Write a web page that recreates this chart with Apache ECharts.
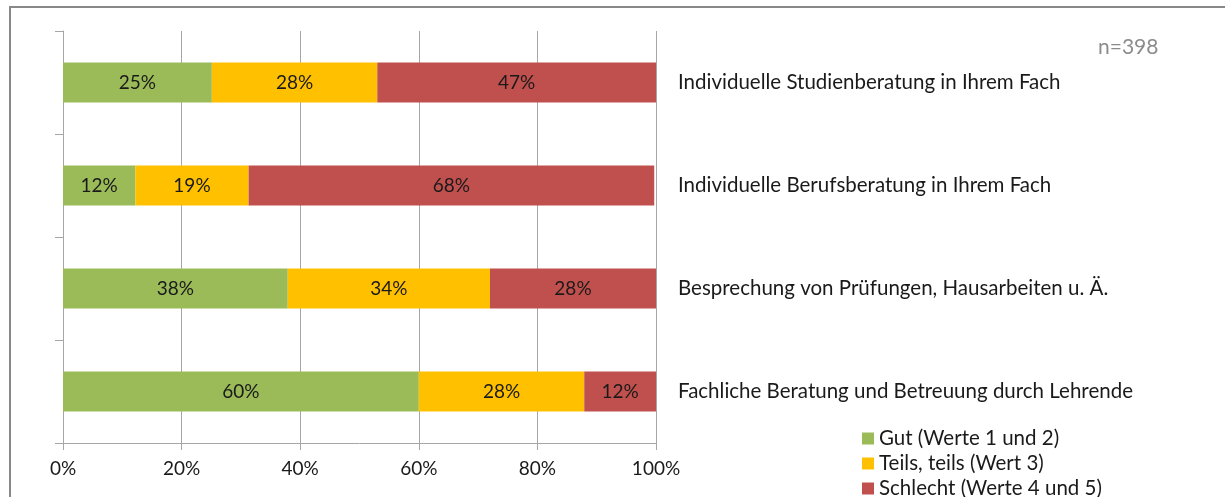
<!DOCTYPE html>
<html><head><meta charset="utf-8">
<script src="https://cdn.jsdelivr.net/npm/echarts@6/dist/echarts.min.js"></script>
<style>html,body{margin:0;padding:0;background:#fff}#c{width:1225px;height:497px}</style>
</head><body><div id="c"></div>
<script>
const categories = [
  "Individuelle Studienberatung in Ihrem Fach",
  "Individuelle Berufsberatung in Ihrem Fach",
  "Besprechung von Prüfungen, Hausarbeiten u. Ä.",
  "Fachliche Beratung und Betreuung durch Lehrende"
];
const seriesNames = ["Gut (Werte 1 und 2)", "Teils, teils (Wert 3)", "Schlecht (Werte 4 und 5)"];
const gut = [25.1, 12.2, 37.9, 60.0];
const teils = [27.9, 19.1, 34.1, 27.9];
const schlecht = [47.0, 68.4, 28.0, 12.1];
const colors = ["#9BBB59", "#FFC000", "#C0504D"];
const xTicks = [0, 20, 40, 60, 80, 100];
const note = "n=398";

const font = "Lato, 'Open Sans', sans-serif";
const txt = "#1a1a1a";
const axisGray = "#a6a6a6";
const fs = 20.5;

const chart = echarts.init(document.getElementById('c'));
const mk = (name, data, color) => ({
  name, type: 'bar', stack: 'total', data, barWidth: 40,
  itemStyle: { color },
  label: { show: true, position: 'inside', color: txt, fontSize: 19, fontFamily: font,
    formatter: p => Math.round(p.value) + '%' },
  emphasis: { disabled: true }
});
const legendTops = [428, 453, 478];
chart.setOption({
  animation: false,
  textStyle: { fontFamily: font },
  grid: { left: 63, right: 569, top: 31, bottom: 54, containLabel: false },
  graphic: [
    { type: 'rect', shape: { x: 10, y: 7, width: 1240, height: 520 },
      style: { fill: 'none', stroke: '#888888', lineWidth: 2 }, silent: true },
    { type: 'text', left: 1098, top: 37, style: { text: note, fill: '#8c8c8c', font: '21px ' + font } }
  ],
  xAxis: {
    type: 'value', min: 0, max: 100, interval: 20,
    axisLine: { show: true, lineStyle: { color: axisGray } },
    axisTick: { show: true, length: 7, lineStyle: { color: axisGray } },
    splitLine: { show: true, lineStyle: { color: axisGray } },
    axisLabel: { color: txt, fontSize: 19, margin: 16, fontFamily: font,
      formatter: v => xTicks.includes(v) ? v + '%' : '' }
  },
  yAxis: [
    { type: 'category', data: categories, inverse: true, position: 'left',
      axisLine: { show: true, lineStyle: { color: axisGray } },
      axisTick: { show: true, length: 8, lineStyle: { color: axisGray } },
      axisLabel: { show: false }, splitLine: { show: false } },
    { type: 'category', data: categories, inverse: true, position: 'right',
      axisLine: { show: false }, axisTick: { show: false },
      axisLabel: { show: true, color: txt, fontSize: 20.5, margin: 22, fontFamily: font } }
  ],
  legend: seriesNames.map((n, i) => ({
    orient: 'vertical', left: 862, top: legendTops[i], itemWidth: 12, itemHeight: 12,
    icon: 'rect', data: [n], padding: 0, itemGap: 0,
    textStyle: { color: txt, fontSize: fs, fontFamily: font, padding: [0, 0, 0, 0] }
  })),
  series: [mk(seriesNames[0], gut, colors[0]), mk(seriesNames[1], teils, colors[1]), mk(seriesNames[2], schlecht, colors[2])]
});
</script></body></html>
